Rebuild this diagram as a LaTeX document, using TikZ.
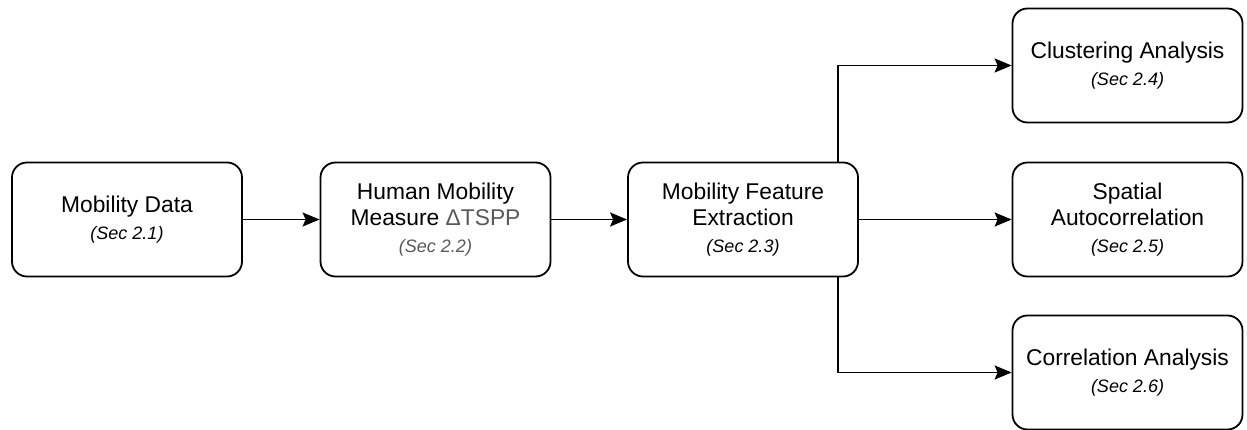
\documentclass[tikz,border=0pt]{standalone}
\usepackage{fontspec}
\setmainfont{Liberation Sans}
\usetikzlibrary{arrows.meta}
\definecolor{txtgray}{HTML}{595959}
\begin{document}
\begin{tikzpicture}[x=1pt,y=-1pt,
  procbox/.style={draw=black, line width=1.8pt, rounded corners=15pt, fill=white,
    minimum width=230pt, minimum height=114pt, inner sep=0pt, align=center,
    font=\fontsize{22.8}{26.5}\selectfont},
  arr/.style={line width=1.8pt, -{Stealth[length=17pt,width=14pt,inset=3pt]}},
  sec/.style={}]
\useasboundingbox (0,0) rectangle (1247,430);
\newcommand{\secline}[2][black]{{\color{#1}\fontsize{18}{26.5}\selectfont\itshape (Sec #2)}}
\node[procbox] (A) at (127,219.5) {Mobility Data\\\secline{2.1}};
\node[procbox] (B) at (435.5,219.5) {Human Mobility\\Measure {\color{txtgray}ΔTSPP}\\\secline[txtgray]{2.2}};
\node[procbox] (C) at (743,219.5) {Mobility Feature\\Extraction\\\secline{2.3}};
\node[procbox] (D) at (1127.5,65.5) {Clustering Analysis\\\secline{2.4}};
\node[procbox] (E) at (1127.5,219.5) {Spatial\\Autocorrelation\\\secline{2.5}};
\node[procbox] (F) at (1127.5,372.5) {Correlation Analysis\\\secline{2.6}};
\coordinate (jx) at (838,0);
\draw[arr] (A) -- (B);
\draw[arr] (B) -- (C);
\draw[arr] (C) -- (E);
\draw[arr] (C.north -| jx) |- (D.west);
\draw[arr] (C.south -| jx) |- (F.west);
\end{tikzpicture}
\end{document}
